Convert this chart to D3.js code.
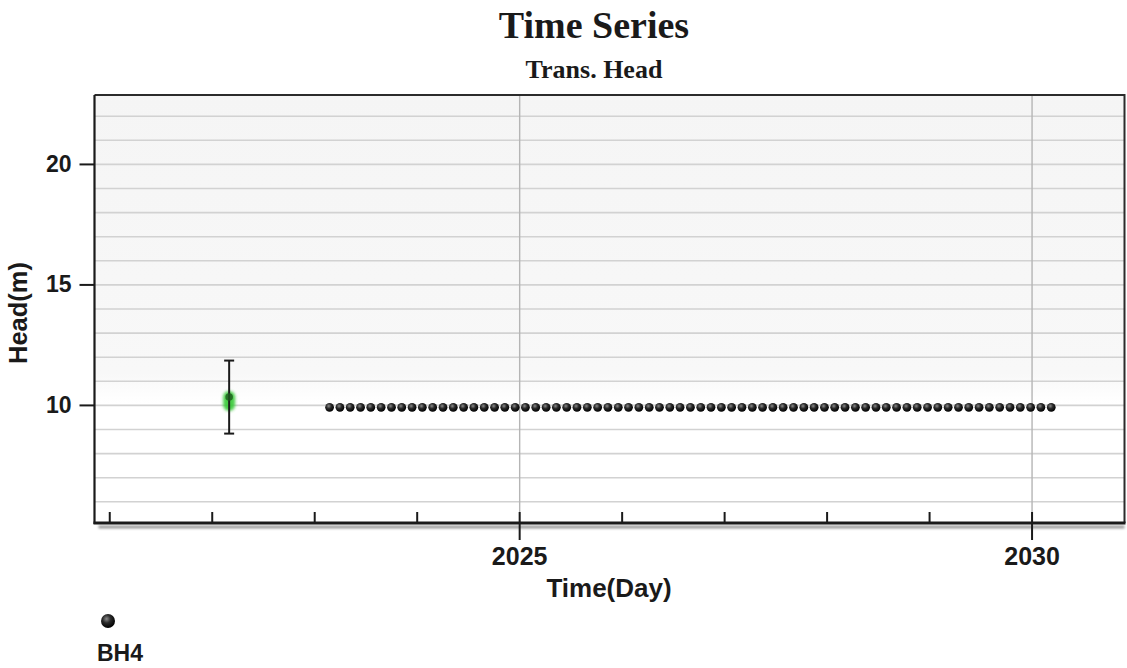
<!DOCTYPE html>
<html>
<head>
<meta charset="utf-8">
<script src="https://d3js.org/d3.v7.min.js"></script>
<style>
  html, body { margin: 0; padding: 0; background: #ffffff; }
  svg { display: block; }
</style>
</head>
<body>
<svg id="chart" width="1127" height="668"></svg>
<script>
// ---------- data ----------
const title = "Time Series";
const subtitle = "Trans. Head";
const xLabel = "Time(Day)";
const yLabel = "Head(m)";
const seriesName = "BH4";

// simulated head series BH4 (time in decimal years)
const simTimes = [
  2023.150, 2023.251, 2023.351, 2023.452, 2023.552, 2023.653, 2023.754, 2023.854, 2023.955, 2024.055,
  2024.156, 2024.257, 2024.357, 2024.458, 2024.558, 2024.659, 2024.760, 2024.860, 2024.961, 2025.061,
  2025.162, 2025.263, 2025.363, 2025.464, 2025.564, 2025.665, 2025.766, 2025.866, 2025.967, 2026.067,
  2026.168, 2026.269, 2026.369, 2026.470, 2026.570, 2026.671, 2026.772, 2026.872, 2026.973, 2027.073,
  2027.174, 2027.275, 2027.375, 2027.476, 2027.576, 2027.677, 2027.778, 2027.878, 2027.979, 2028.079,
  2028.180, 2028.281, 2028.381, 2028.482, 2028.582, 2028.683, 2028.784, 2028.884, 2028.985, 2029.085,
  2029.186, 2029.287, 2029.387, 2029.488, 2029.588, 2029.689, 2029.790, 2029.890, 2029.991, 2030.091,
  2030.192
];
const simValues = [
  9.9, 9.9, 9.9, 9.9, 9.9, 9.9, 9.9, 9.9, 9.9, 9.9,
  9.9, 9.9, 9.9, 9.9, 9.9, 9.9, 9.9, 9.9, 9.9, 9.9,
  9.9, 9.9, 9.9, 9.9, 9.9, 9.9, 9.9, 9.9, 9.9, 9.9,
  9.9, 9.9, 9.9, 9.9, 9.9, 9.9, 9.9, 9.9, 9.9, 9.9,
  9.9, 9.9, 9.9, 9.9, 9.9, 9.9, 9.9, 9.9, 9.9, 9.9,
  9.9, 9.9, 9.9, 9.9, 9.9, 9.9, 9.9, 9.9, 9.9, 9.9,
  9.9, 9.9, 9.9, 9.9, 9.9, 9.9, 9.9, 9.9, 9.9, 9.9,
  9.9
];

// observation (calibration target) with error bar
const obsTimes = [2022.17];
const obsValues = [10.33];
const obsCalcValues = [10.0];
const obsErrLow = [8.81];
const obsErrHigh = [11.84];

// axes
const xDomain = [2020.856, 2030.907];
const yDomain = [5.1, 22.86];
const xMajorTicks = [2025, 2030];
const xMinorTicks = [2021, 2022, 2023, 2024, 2025, 2026, 2027, 2028, 2029, 2030];
const yMajorTicks = [10, 15, 20];
const yGridTicks = [6, 7, 8, 9, 10, 11, 12, 13, 14, 15, 16, 17, 18, 19, 20, 21, 22];

// ---------- layout ----------
const svg = d3.select("#chart");
const L = 94.5, R = 1124.5, T = 95, B = 523;
const SANS = "'Liberation Sans', Arial, sans-serif";
const SERIF = "'Liberation Serif', 'Times New Roman', serif";

const x = d3.scaleLinear().domain(xDomain).range([L, R]);
const y = d3.scaleLinear().domain(yDomain).range([B, T]);

const defs = svg.append("defs");
const bg = defs.append("linearGradient").attr("id", "bgGrad")
  .attr("x1", 0).attr("y1", 0).attr("x2", 0).attr("y2", 1);
bg.append("stop").attr("offset", "0%").attr("stop-color", "#f5f5f5");
bg.append("stop").attr("offset", "65%").attr("stop-color", "#f8f8f8");
bg.append("stop").attr("offset", "72%").attr("stop-color", "#ffffff");
bg.append("stop").attr("offset", "100%").attr("stop-color", "#ffffff");

const ball = defs.append("radialGradient").attr("id", "ball")
  .attr("cx", "40%").attr("cy", "35%").attr("r", "65%");
ball.append("stop").attr("offset", "0%").attr("stop-color", "#8a8a8a");
ball.append("stop").attr("offset", "45%").attr("stop-color", "#2a2a2a");
ball.append("stop").attr("offset", "100%").attr("stop-color", "#000000");

const blur = defs.append("filter").attr("id", "blur")
  .attr("filterUnits", "userSpaceOnUse")
  .attr("x", 0).attr("y", 0).attr("width", 1127).attr("height", 668);
blur.append("feGaussianBlur").attr("stdDeviation", 1.5);

const shadowBlur = defs.append("filter").attr("id", "sblur")
  .attr("filterUnits", "userSpaceOnUse")
  .attr("x", 0).attr("y", 0).attr("width", 1127).attr("height", 668);
shadowBlur.append("feGaussianBlur").attr("stdDeviation", 1.2);

// plot background
svg.append("rect").attr("x", L).attr("y", T).attr("width", R - L).attr("height", B - T)
  .attr("fill", "url(#bgGrad)");

// horizontal grid
svg.append("g")
  .attr("transform", `translate(${L},0)`)
  .call(d3.axisLeft(y).tickValues(yGridTicks).tickSize(-(R - L)).tickFormat(""))
  .call(g => g.select(".domain").remove())
  .call(g => g.selectAll("line").attr("stroke", "#d2d2d2").attr("stroke-width", 1.6));

// vertical grid at major x ticks
svg.append("g")
  .attr("transform", `translate(0,${B})`)
  .call(d3.axisBottom(x).tickValues(xMajorTicks).tickSize(-(B - T)).tickFormat(""))
  .call(g => g.select(".domain").remove())
  .call(g => g.selectAll("line").attr("stroke", "#b5b5b5").attr("stroke-width", 1.4));

// shadow under bottom axis
svg.append("line").attr("x1", L + 4).attr("x2", R).attr("y1", B + 4).attr("y2", B + 4)
  .attr("stroke", "#9a9a9a").attr("stroke-width", 3).attr("filter", "url(#sblur)");

// plot border (top and right)
svg.append("path")
  .attr("d", `M${L},${T}H${R}V${B}`)
  .attr("fill", "none").attr("stroke", "#2b2b2b").attr("stroke-width", 2);

// x minor ticks (upwards)
svg.append("g")
  .attr("transform", `translate(0,${B})`)
  .call(d3.axisBottom(x).tickValues(xMinorTicks).tickSize(-11).tickFormat(""))
  .call(g => g.select(".domain").remove())
  .call(g => g.selectAll("line").attr("stroke", "#1a1a1a").attr("stroke-width", 2));

// x major ticks + labels
svg.append("g")
  .attr("transform", `translate(0,${B})`)
  .call(d3.axisBottom(x).tickValues(xMajorTicks).tickSize(17).tickFormat(d3.format("d")))
  .call(g => g.select(".domain").remove())
  .call(g => g.selectAll("line").attr("stroke", "#1a1a1a").attr("stroke-width", 2))
  .call(g => g.selectAll("text")
    .attr("dy", null).attr("y", 42)
    .attr("fill", "#1a1a1a")
    .attr("font-family", SANS)
    .attr("font-weight", "bold").attr("font-size", 25));

// y ticks + labels
svg.append("g")
  .attr("transform", `translate(${L},0)`)
  .call(d3.axisLeft(y).tickValues(yMajorTicks).tickSize(15).tickPadding(8).tickFormat(d3.format("d")))
  .call(g => g.select(".domain").remove())
  .call(g => g.selectAll("line").attr("stroke", "#1a1a1a").attr("stroke-width", 2))
  .call(g => g.selectAll("text")
    .attr("fill", "#1a1a1a")
    .attr("font-family", SANS)
    .attr("font-weight", "bold").attr("font-size", 23));

// axis lines
svg.append("line").attr("x1", L).attr("x2", L).attr("y1", T).attr("y2", B + 1)
  .attr("stroke", "#1a1a1a").attr("stroke-width", 2.2);
svg.append("line").attr("x1", L - 1).attr("x2", R + 1).attr("y1", B).attr("y2", B)
  .attr("stroke", "#1a1a1a").attr("stroke-width", 3);

// observation: green marker, error bar, dark point
const obs = obsTimes.map((t, i) => ({
  t, v: obsValues[i], c: obsCalcValues[i], lo: obsErrLow[i], hi: obsErrHigh[i]
}));
const og = svg.append("g");
og.selectAll("rect.green").data(obs).join("rect").attr("class", "green")
  .attr("x", d => x(d.t) - 6)
  .attr("y", d => Math.min(y(d.v), y(d.c)) - 6)
  .attr("width", 12)
  .attr("height", d => Math.abs(y(d.v) - y(d.c)) + 12)
  .attr("rx", 6)
  .attr("fill", "#35c935").attr("opacity", 0.9)
  .attr("filter", "url(#blur)");
og.selectAll("line.err").data(obs).join("line").attr("class", "err")
  .attr("x1", d => x(d.t)).attr("x2", d => x(d.t))
  .attr("y1", d => y(d.lo)).attr("y2", d => y(d.hi))
  .attr("stroke", "#1a1a1a").attr("stroke-width", 2);
og.selectAll("line.capHi").data(obs).join("line").attr("class", "capHi")
  .attr("x1", d => x(d.t) - 5).attr("x2", d => x(d.t) + 5)
  .attr("y1", d => y(d.hi)).attr("y2", d => y(d.hi))
  .attr("stroke", "#1a1a1a").attr("stroke-width", 2);
og.selectAll("line.capLo").data(obs).join("line").attr("class", "capLo")
  .attr("x1", d => x(d.t) - 5).attr("x2", d => x(d.t) + 5)
  .attr("y1", d => y(d.lo)).attr("y2", d => y(d.lo))
  .attr("stroke", "#1a1a1a").attr("stroke-width", 2);
og.selectAll("circle").data(obs).join("circle")
  .attr("cx", d => x(d.t)).attr("cy", d => y(d.v)).attr("r", 3.8)
  .attr("fill", "#1d5a1d").attr("opacity", 0.8);

// simulated series dots
const sim = simTimes.map((t, i) => ({ t, v: simValues[i] }));
svg.append("g").selectAll("circle").data(sim).join("circle")
  .attr("cx", d => x(d.t)).attr("cy", d => y(d.v)).attr("r", 4.4)
  .attr("fill", "url(#ball)");

// titles
svg.append("text").attr("x", 594).attr("y", 38).attr("text-anchor", "middle")
  .attr("font-family", SERIF)
  .attr("font-weight", "bold").attr("font-size", 38).attr("fill", "#1a1a1a").text(title);
svg.append("text").attr("x", 594).attr("y", 78).attr("text-anchor", "middle")
  .attr("font-family", SERIF)
  .attr("font-weight", "bold").attr("font-size", 26).attr("fill", "#1a1a1a").text(subtitle);

// axis titles
svg.append("text").attr("x", 609).attr("y", 597).attr("text-anchor", "middle")
  .attr("font-family", SANS)
  .attr("font-weight", "bold").attr("font-size", 26).attr("fill", "#1a1a1a").text(xLabel);
svg.append("text").attr("transform", "translate(27,313) rotate(-90)").attr("text-anchor", "middle")
  .attr("font-family", SANS)
  .attr("font-weight", "bold").attr("font-size", 25.5).attr("fill", "#1a1a1a").text(yLabel);

// legend
const lg = svg.append("g");
lg.append("circle").attr("cx", 108).attr("cy", 621).attr("r", 7).attr("fill", "url(#ball)");
lg.append("text").attr("x", 97).attr("y", 661)
  .attr("font-family", SANS)
  .attr("font-weight", "bold").attr("font-size", 23).attr("fill", "#1a1a1a").text(seriesName);
</script>
</body>
</html>
